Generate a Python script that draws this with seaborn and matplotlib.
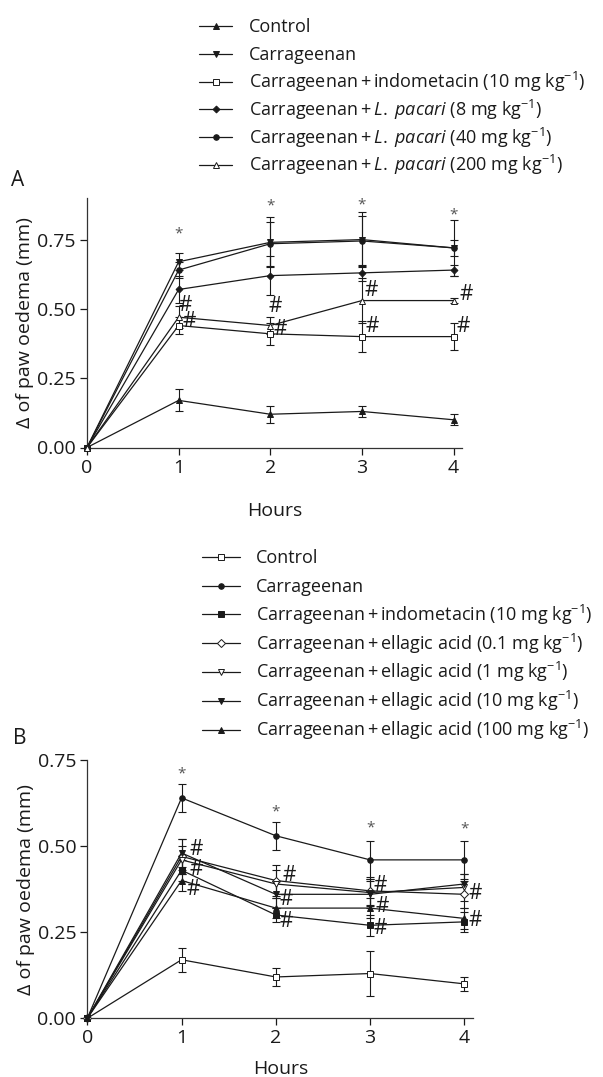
import numpy as np
import pandas as pd
import matplotlib.pyplot as plt
import seaborn as sns

# Data (mean and error bar half-height)
hours = [0, 1, 2, 3, 4]

P = "\u2009+\u2009"
KG = " mg kg$^{-1}$)"
LP = "$\\mathit{L.}$ $\\mathit{pacari}$"

# Panel A: L. pacari
a_labels = [
    "Control",
    "Carrageenan",
    "Carrageenan" + P + "indometacin (10" + KG,
    "Carrageenan" + P + LP + " (8" + KG,
    "Carrageenan" + P + LP + " (40" + KG,
    "Carrageenan" + P + LP + " (200" + KG,
]
a_control = [0, 0.17, 0.12, 0.13, 0.10]
a_control_err = [0, 0.04, 0.03, 0.02, 0.02]
a_carr = [0, 0.67, 0.74, 0.75, 0.72]
a_carr_err = [0, 0.03, 0.09, 0.10, 0.10]
a_indo = [0, 0.44, 0.41, 0.40, 0.40]
a_indo_err = [0, 0.03, 0.04, 0.055, 0.05]
a_lp8 = [0, 0.57, 0.62, 0.63, 0.64]
a_lp8_err = [0, 0.05, 0.07, 0.03, 0.02]
a_lp40 = [0, 0.64, 0.735, 0.745, 0.72]
a_lp40_err = [0, 0.03, 0.08, 0.09, 0.03]
a_lp200 = [0, 0.47, 0.44, 0.53, 0.53]
a_lp200_err = [0, 0.04, 0.03, 0.08, 0.01]

# Panel B: ellagic acid
b_labels = [
    "Control",
    "Carrageenan",
    "Carrageenan" + P + "indometacin (10" + KG,
    "Carrageenan" + P + "ellagic acid (0.1" + KG,
    "Carrageenan" + P + "ellagic acid (1" + KG,
    "Carrageenan" + P + "ellagic acid (10" + KG,
    "Carrageenan" + P + "ellagic acid (100" + KG,
]
b_control = [0, 0.17, 0.12, 0.13, 0.10]
b_control_err = [0, 0.035, 0.027, 0.065, 0.02]
b_carr = [0, 0.64, 0.53, 0.46, 0.46]
b_carr_err = [0, 0.04, 0.04, 0.055, 0.055]
b_indo = [0, 0.43, 0.30, 0.27, 0.28]
b_indo_err = [0, 0.03, 0.02, 0.03, 0.03]
b_ea01 = [0, 0.47, 0.40, 0.37, 0.36]
b_ea01_err = [0, 0.05, 0.045, 0.04, 0.04]
b_ea1 = [0, 0.46, 0.39, 0.365, 0.38]
b_ea1_err = [0, 0.04, 0.04, 0.04, 0.04]
b_ea10 = [0, 0.48, 0.36, 0.36, 0.39]
b_ea10_err = [0, 0.04, 0.04, 0.04, 0.03]
b_ea100 = [0, 0.40, 0.32, 0.32, 0.29]
b_ea100_err = [0, 0.03, 0.03, 0.03, 0.03]

# significance marks (x, y)
a_star = [(1, 0.77), (2, 0.87), (3, 0.875), (4, 0.84)]
a_hash = [(1.07, 0.514), (1.12, 0.454), (2.05, 0.508), (2.11, 0.424),
          (3.1, 0.568), (3.11, 0.436), (4.14, 0.552), (4.11, 0.436)]
b_star = [(1, 0.71), (2, 0.60), (3, 0.552), (4, 0.549)]
b_hash = [(1.16, 0.489), (1.16, 0.431), (1.12, 0.373),
          (2.14, 0.416), (2.11, 0.345), (2.11, 0.28),
          (3.11, 0.387), (3.13, 0.324), (3.11, 0.261),
          (4.12, 0.363), (4.12, 0.283)]

sns.set_theme(style="ticks")
plt.rcParams["font.family"] = ["Open Sans", "DejaVu Sans"]
plt.rcParams["mathtext.fontset"] = "custom"
plt.rcParams["mathtext.rm"] = "Open Sans"
plt.rcParams["mathtext.it"] = "Open Sans:italic"
plt.rcParams["mathtext.default"] = "rm"

FS = 14
FS_LEG = 13
INK = "#1a1a1a"

fig = plt.figure(figsize=(6.03, 10.77), dpi=100)
W, H = 603, 1077
axA = fig.add_axes([87 / W, 1 - 447.5 / H, 375.3 / W, 249.5 / H])
axB = fig.add_axes([87.3 / W, 1 - 1018.3 / H, 386 / W, 258.3 / H])


def draw(ax, series):
    handles = []
    for vals, err, marker, ms, fc in series:
        sns.lineplot(x=hours, y=vals, ax=ax, color=INK, lw=0.9, marker=marker,
                     markersize=ms, markerfacecolor=fc, markeredgecolor=INK,
                     markeredgewidth=0.7, clip_on=False, zorder=3)
        handles.append(ax.lines[-1])
        ax.errorbar(hours[1:], vals[1:], yerr=err[1:], fmt="none", ecolor=INK,
                    elinewidth=0.8, capsize=3, capthick=0.8, clip_on=False)
    return handles


seriesA = [
    (a_control, a_control_err, "^", 4.5, INK),
    (a_carr, a_carr_err, "v", 4.5, INK),
    (a_indo, a_indo_err, "s", 4, "white"),
    (a_lp8, a_lp8_err, "D", 3.5, INK),
    (a_lp40, a_lp40_err, "o", 4, INK),
    (a_lp200, a_lp200_err, "^", 4.5, "white"),
]
seriesB = [
    (b_control, b_control_err, "s", 4.5, "white"),
    (b_carr, b_carr_err, "o", 4, INK),
    (b_indo, b_indo_err, "s", 4.5, INK),
    (b_ea01, b_ea01_err, "D", 4, "white"),
    (b_ea1, b_ea1_err, "v", 5, "white"),
    (b_ea10, b_ea10_err, "v", 5, INK),
    (b_ea100, b_ea100_err, "^", 5, INK),
]

hA = draw(axA, seriesA)
hB = draw(axB, seriesB)

for ax, top, xlabpad in [(axA, 0.9, 18), (axB, 0.75, 9)]:
    ax.set_xlim(0, 4.095)
    ax.set_ylim(0, top)
    ax.set_xticks(hours)
    ax.set_yticks([0, 0.25, 0.5, 0.75])
    ax.set_yticklabels(["0.00", "0.25", "0.50", "0.75"])
    ax.tick_params(labelsize=FS, length=5, width=0.9, pad=3, colors=INK)
    for s in ["left", "bottom"]:
        ax.spines[s].set_linewidth(0.9)
        ax.spines[s].set_color("#333333")
    sns.despine(ax=ax)
    ax.set_xlabel("Hours", fontsize=FS, labelpad=xlabpad, color=INK)
    ax.set_ylabel("Δ of paw oedema (mm)", fontsize=FS, labelpad=2, color=INK)

for ax, stars, hashes in [(axA, a_star, a_hash), (axB, b_star, b_hash)]:
    for x, y in stars:
        ax.text(x, y, "*", fontsize=11, color="#555555", ha="center", va="center")
    for x, y in hashes:
        ax.text(x, y, "#", fontsize=15, color=INK, ha="center", va="center")

# legends: evenly spaced rows from plain placeholder text, real labels laid on top
legA = fig.legend(hA, ["Carrageenan"] * len(hA), loc="upper left",
                  bbox_to_anchor=(199 / W, 1 - 18.5 / H), frameon=False,
                  fontsize=FS_LEG, handlelength=1.85, handletextpad=0.9,
                  labelspacing=0.54, borderpad=0, borderaxespad=0)
legB = fig.legend(hB, ["Carrageenan"] * len(hB), loc="upper left",
                  bbox_to_anchor=(202 / W, 1 - 549 / H), frameon=False,
                  fontsize=FS_LEG, handlelength=2.1, handletextpad=0.9,
                  labelspacing=0.6, borderpad=0, borderaxespad=0)
for leg in (legA, legB):
    for t in leg.get_texts():
        t.set_alpha(0)

fig.canvas.draw()
inv = fig.transFigure.inverted()
for leg, labels in [(legA, a_labels), (legB, b_labels)]:
    for t, lab in zip(leg.get_texts(), labels):
        fx, fy = inv.transform(t.get_transform().transform(t.get_position()))
        fig.text(fx, fy, lab, fontsize=FS_LEG, ha="left", va="baseline", color=INK)

fig.text(18 / W, 1 - 180 / H, "A", fontsize=15, ha="center", va="center", color=INK)
fig.text(20 / W, 1 - 739 / H, "B", fontsize=15, ha="center", va="center", color=INK)

fig.savefig("out.png", dpi=100, facecolor="white")
